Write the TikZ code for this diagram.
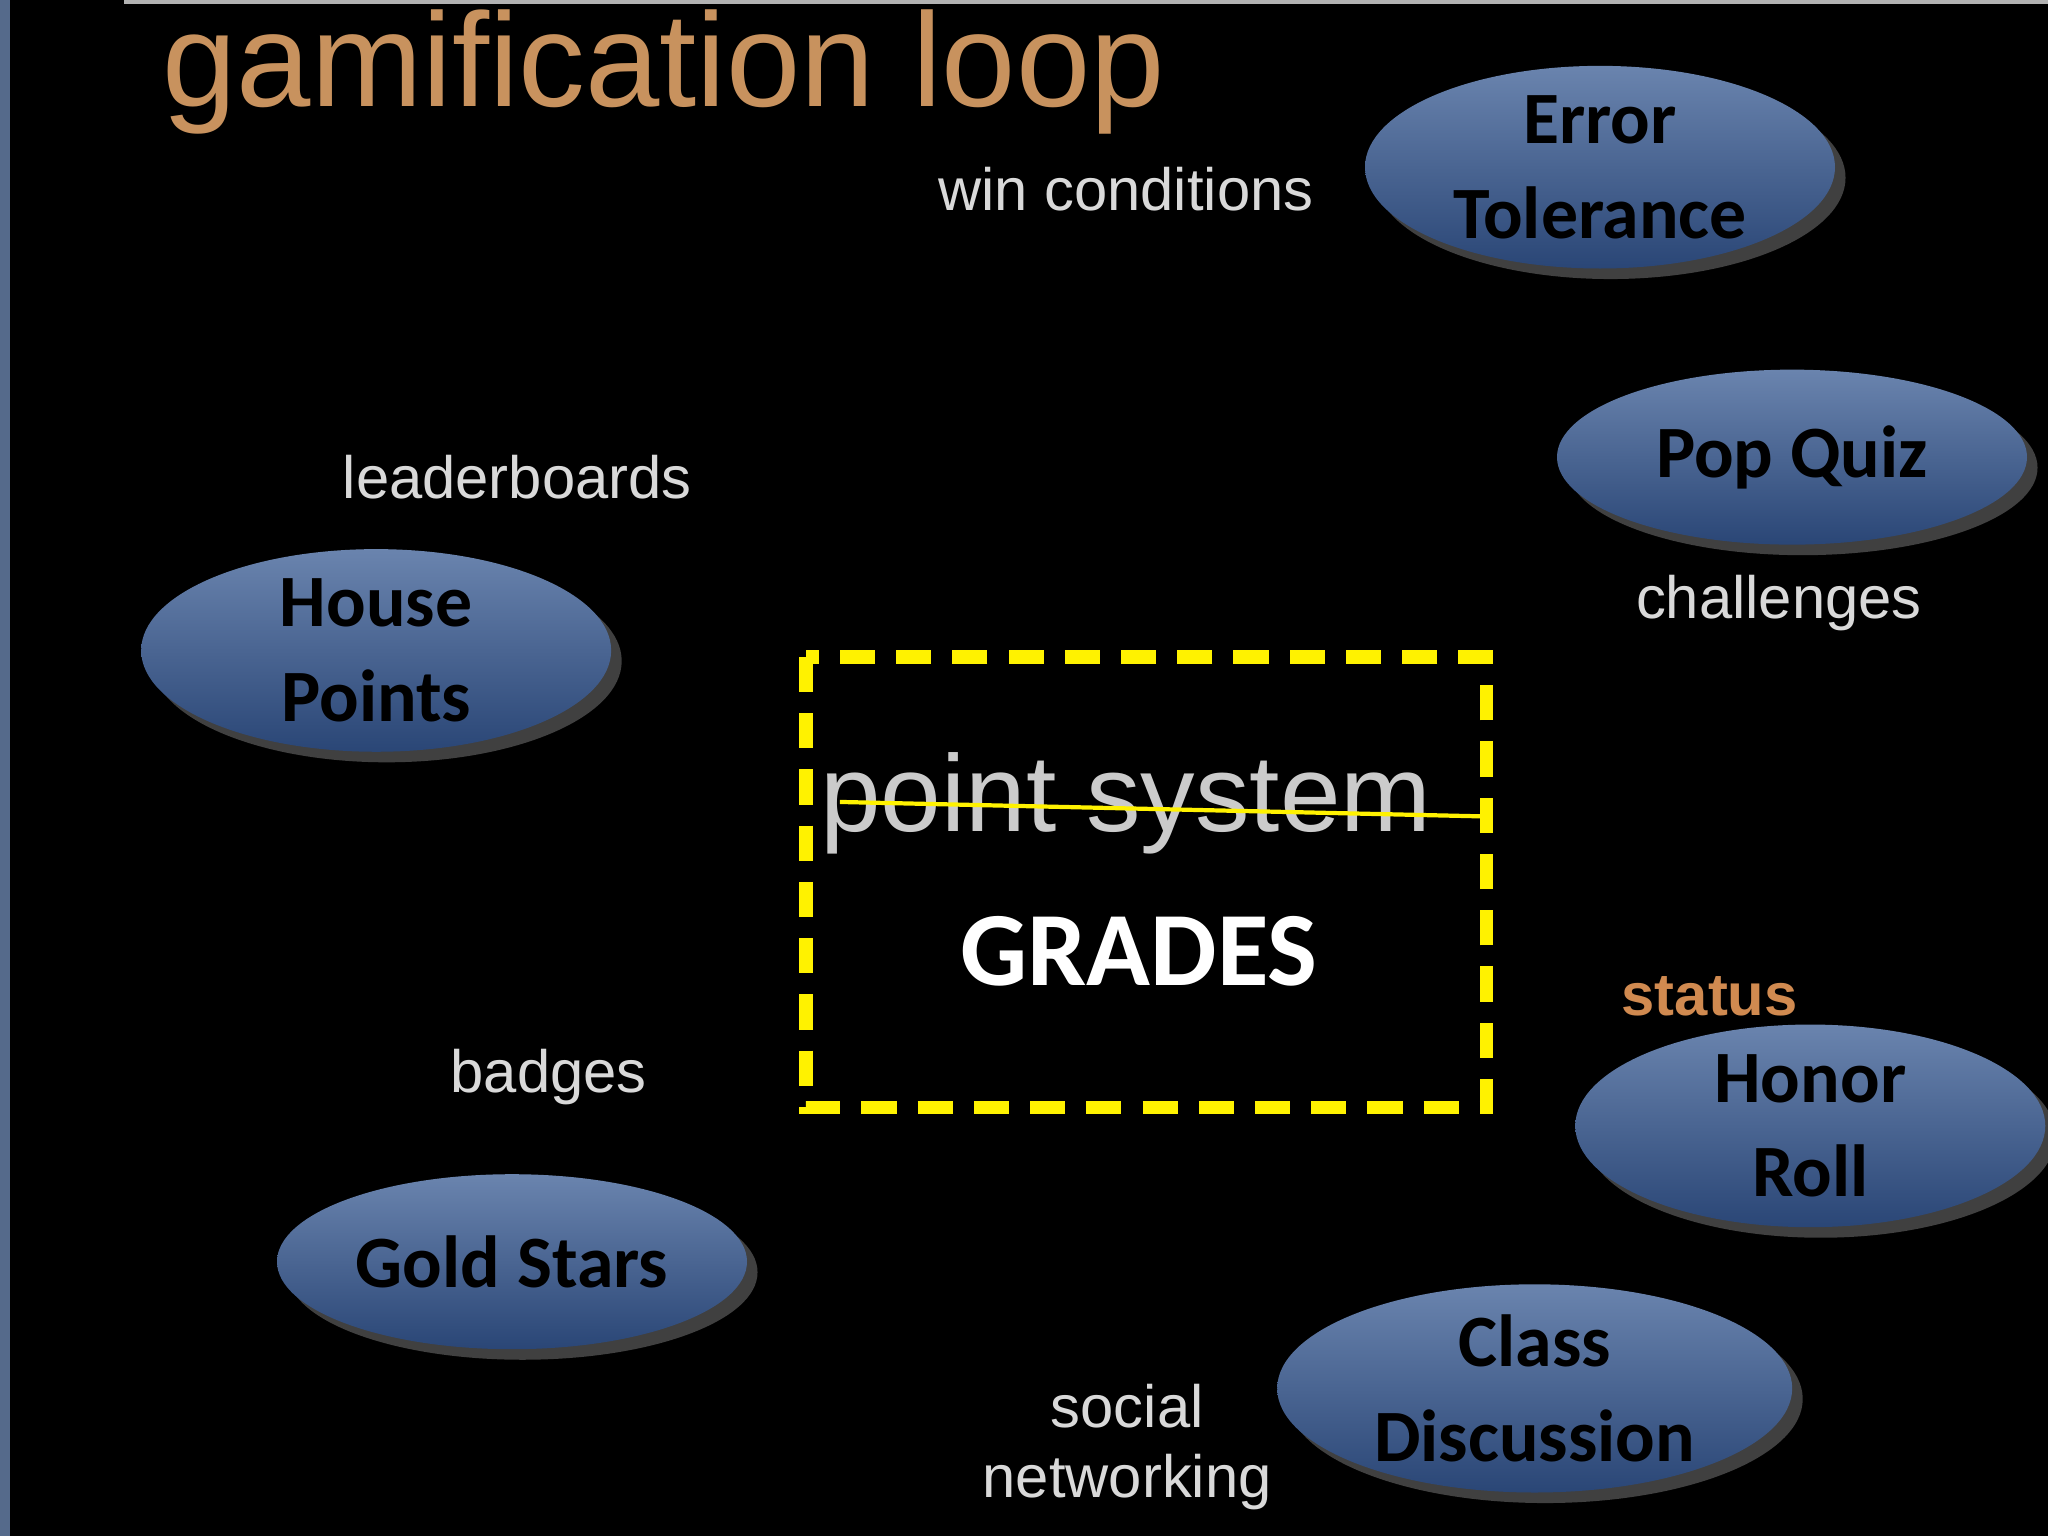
\documentclass[tikz,border=0pt]{standalone}
\usepackage{fontspec}
\setmainfont{Liberation Sans}
\newfontfamily\carl{Carlito}
\usetikzlibrary{arrows.meta,shadows,shapes.geometric}
\definecolor{lbl}{HTML}{D9D9D9}
\definecolor{loop}{HTML}{E4EAA8}
\definecolor{ttl}{HTML}{C8925E}
\definecolor{stc}{HTML}{D08A50}
\definecolor{btop}{HTML}{6A84AE}
\definecolor{bbot}{HTML}{2A4676}
\tikzset{
 blob/.style={ellipse,minimum width=4.7cm,minimum height=1.75cm,inner sep=0pt,
   top color=btop, bottom color=bbot,
   draw=none, drop shadow={shadow xshift=3pt,shadow yshift=-3pt,opacity=.5},
   font=\carl\bfseries\fontsize{21}{27}\selectfont, align=center, text=black},
 lab/.style={text=lbl,font=\fontsize{17}{20}\selectfont}
}
\begin{document}
\begin{tikzpicture}[x=0.01306cm,y=-0.01306cm]
\fill[black] (0,0) rectangle (1568,1176);
\useasboundingbox (0,0) rectangle (1568,1176);
\fill[btop!80!black] (0,0) rectangle (8,1176);
\fill[gray!60] (95,0) rectangle (1568,3);
\node[text=ttl,font=\fontsize{38}{44}\selectfont,anchor=west] (title) at (115,55) {gamification loop};
% loop
\draw[loop,line width=4pt,-{Triangle[length=18pt,width=14pt]}]
  (855,617) ++(17:365 and -407) arc[start angle=17,end angle=350,x radius=365,y radius=-407];
% labels
\node[lab] (win) at (862,145) {win conditions};
\node[lab] (lead) at (396,365) {leaderboards};
\node[lab] (chal) at (1362,462) {challenges};
\node[lab] (badg) at (420,825) {badges};
\node[lab,align=center] (soc) at (863,1108) {social\\networking};
\node[text=stc,font=\bfseries\fontsize{17}{20}\selectfont] (stat) at (1309,763) {status};
% box
\draw[yellow,line width=3.8pt,dash pattern=on 10pt off 6pt] (617,503) rectangle (1138,848);
\node[text=lbl!85!gray,font=\fontsize{31}{36}\selectfont] (ps) at (862,615) {point system};
\draw[yellow,line width=1.2pt] (643,614) -- (1133,625);
\node[text=white,font=\carl\bfseries\fontsize{30}{36}\selectfont] (gr) at (872,728) {GRADES};
% blobs
\node[blob] (et) at (1225,128) {Error\\Tolerance};
\node[blob] (pq) at (1372,350) {Pop Quiz};
\node[blob] (hp) at (288,498) {House\\Points};
\node[blob] (gs) at (392,966) {Gold Stars};
\node[blob] (hr) at (1386,862) {Honor\\Roll};
\node[blob,minimum width=5.15cm] (cd) at (1175,1063) {Class\\Discussion};
\end{tikzpicture}
\end{document}
